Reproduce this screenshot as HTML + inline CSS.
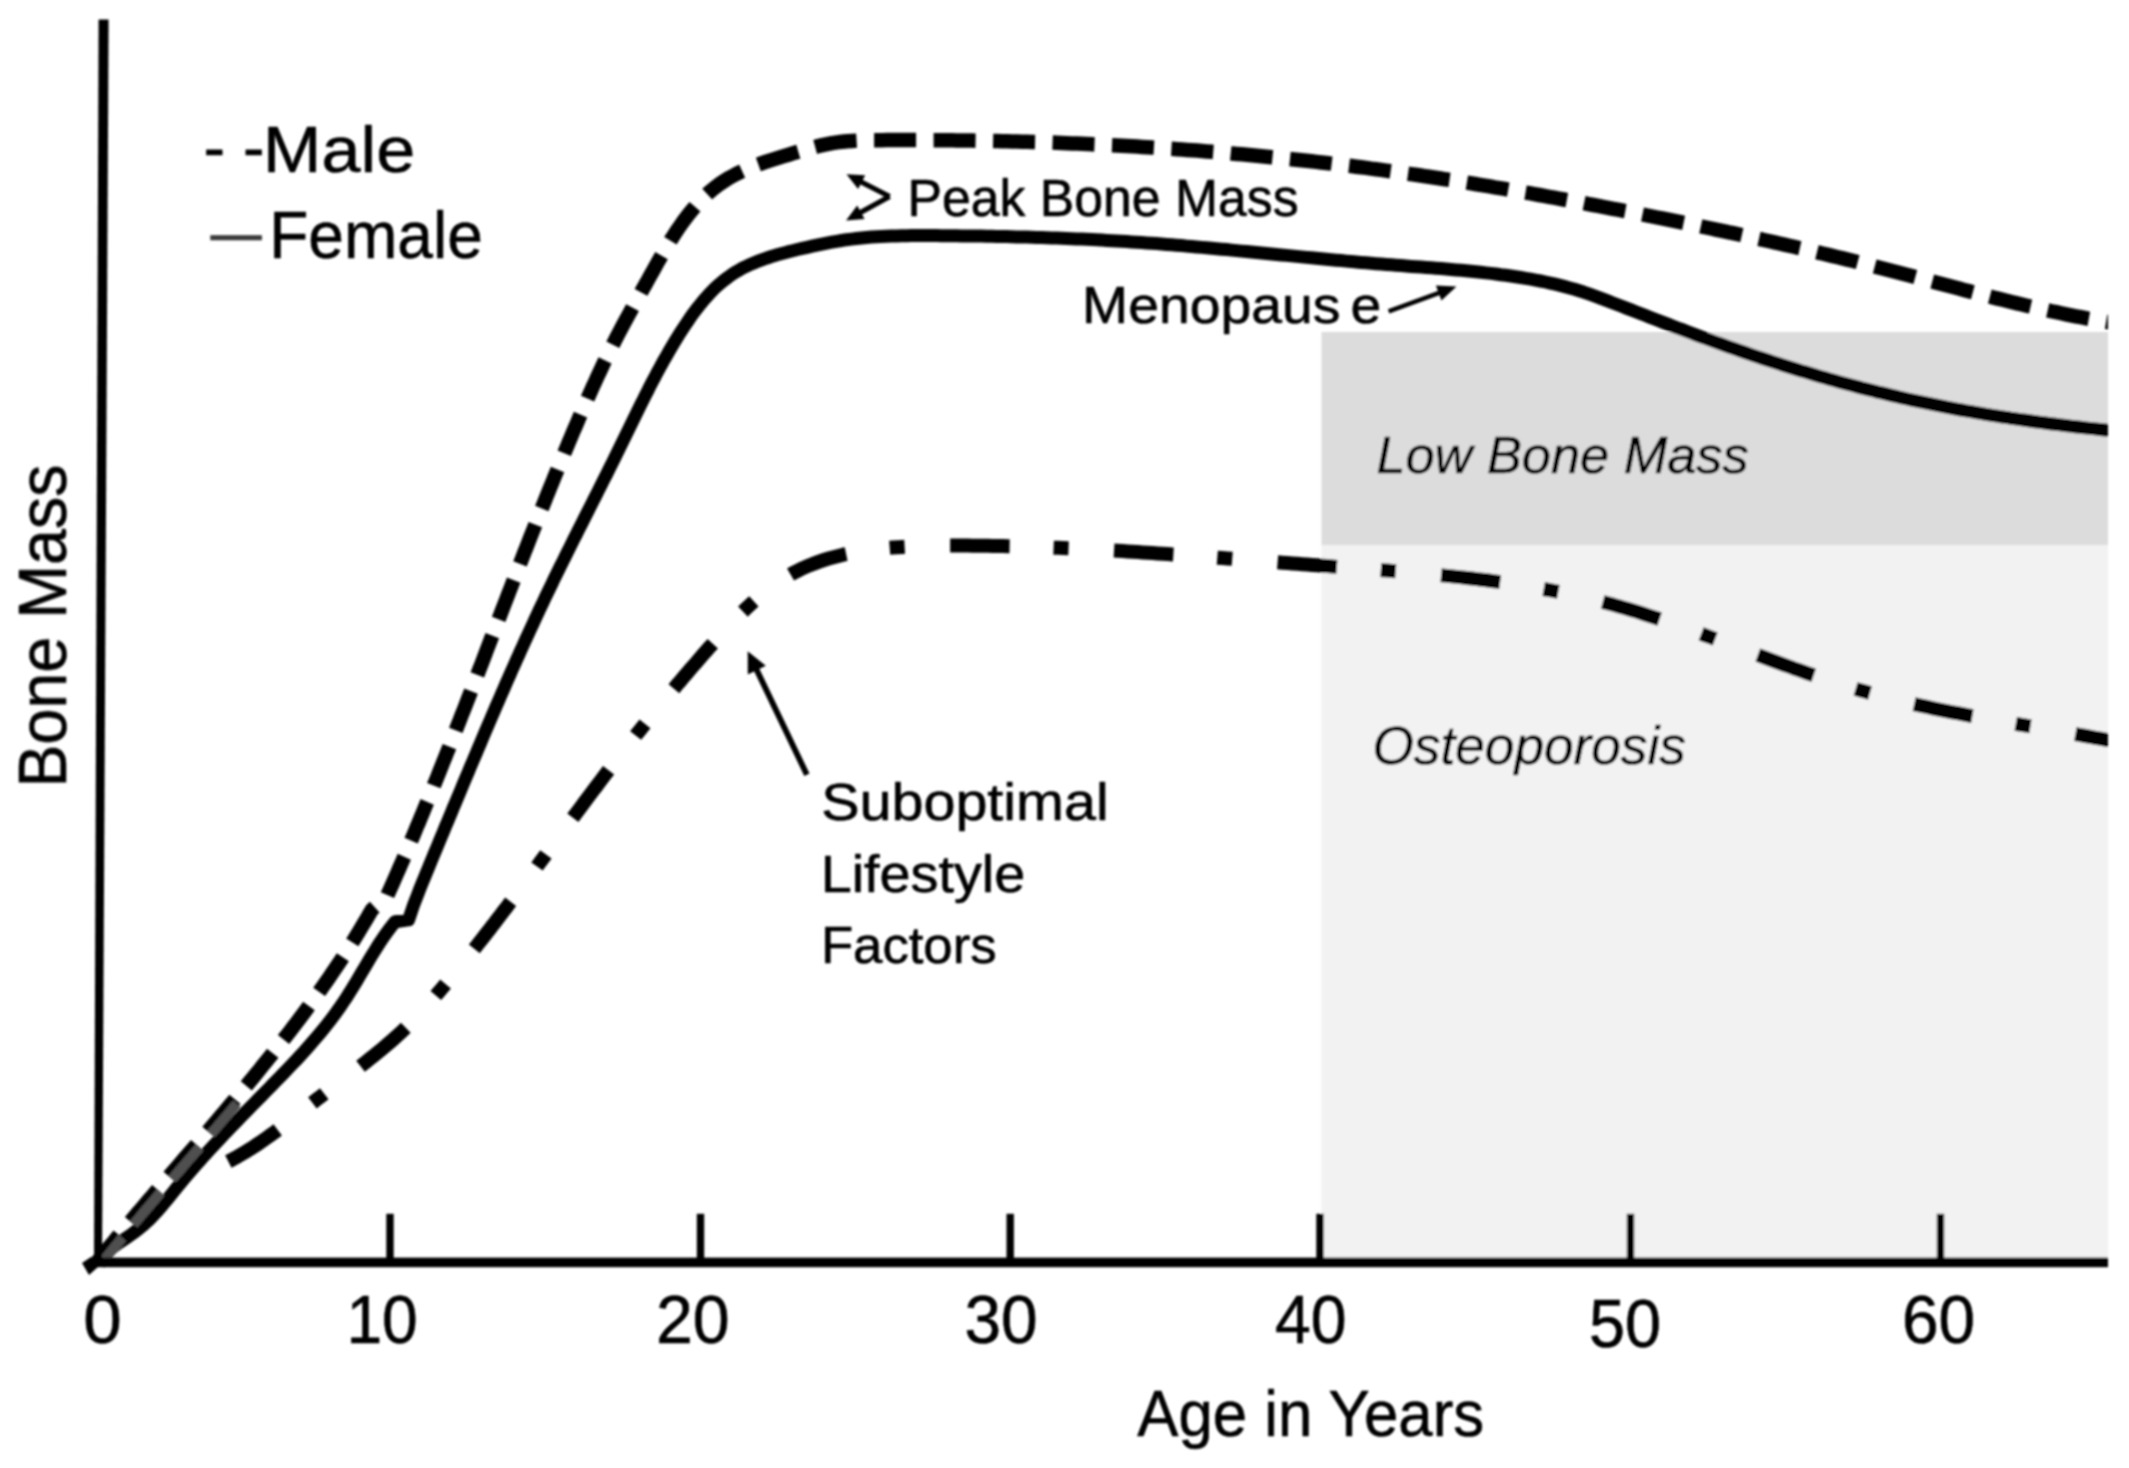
<!DOCTYPE html>
<html lang="en"><head><meta charset="utf-8"><title>Bone Mass by Age</title><style>html,body{margin:0;padding:0;background:#fff}svg{display:block}</style></head><body><svg width="2129" height="1468" viewBox="0 0 2129 1468"><defs><clipPath id="plot"><rect x="0" y="0" width="2108" height="1468"/></clipPath><filter id="soft" filterUnits="userSpaceOnUse" x="0" y="0" width="2129" height="1468"><feGaussianBlur stdDeviation="1"/></filter></defs><rect width="2129" height="1468" fill="#fff"/><g filter="url(#soft)"><rect x="1321.5" y="332" width="786.5" height="213" fill="#dcdcdc"/>
<rect x="1321.5" y="545" width="786.5" height="715" fill="#f2f2f2"/>
<g clip-path="url(#plot)" fill="none" stroke="#000" stroke-linejoin="round">
<path d="M228.3 1161.5 L232.8 1159.2 L237.2 1156.8 L241.5 1154.3 L245.8 1151.7 L250.1 1149.1 L254.3 1146.4 L258.4 1143.6 L262.6 1140.8 L266.7 1137.9 L270.7 1135.0 L274.8 1132.1 L278.8 1129.1 L282.8 1126.0 L286.7 1123.0 L290.7 1119.9 L294.6 1116.8 L298.6 1113.7 L302.5 1110.7 L306.4 1107.6 L310.3 1104.5 L314.3 1101.4 L318.2 1098.3 L322.2 1095.3 L326.2 1092.2 L330.2 1089.2 L334.2 1086.2 L338.2 1083.2 L342.2 1080.2 L346.2 1077.1 L350.1 1074.1 L354.1 1071.1 L358.1 1068.1 L362.1 1065.0 L366.0 1061.9 L369.9 1058.8 L373.8 1055.7 L377.7 1052.6 L381.6 1049.4 L385.4 1046.2 L389.2 1042.9 L393.0 1039.6 L396.7 1036.3 L400.4 1032.9 L404.0 1029.4 L407.6 1025.9 L411.2 1022.4 L414.6 1018.8 L418.1 1015.2 L421.5 1011.5 L424.9 1007.8 L428.2 1004.1 L431.5 1000.4 L434.8 996.6 L438.1 992.8 L441.4 989.0 L444.6 985.2 L447.8 981.4 L451.0 977.5 L454.2 973.7 L457.4 969.8 L460.6 966.0 L463.7 962.1 L466.9 958.2 L470.0 954.3 L473.1 950.4 L476.2 946.5 L479.3 942.5 L482.4 938.6 L485.5 934.6 L488.6 930.7 L491.6 926.7 L494.7 922.8 L497.7 918.8 L500.8 914.8 L503.8 910.8 L506.8 906.9 L509.8 902.9 L512.9 898.9 L515.9 894.9 L518.9 890.9 L521.9 886.9 L524.8 882.8 L527.8 878.8 L530.8 874.8 L533.8 870.8 L536.8 866.8 L539.7 862.7 L542.7 858.7 L545.7 854.7 L548.6 850.7 L551.6 846.6 L554.6 842.6 L557.6 838.6 L560.5 834.5 L563.5 830.5 L566.5 826.5 L569.4 822.5 L572.4 818.4 L575.4 814.4 L578.4 810.4 L581.4 806.4 L584.3 802.4 L587.3 798.4 L590.3 794.4 L593.3 790.4 L596.4 786.4 L599.4 782.4 L602.4 778.4 L605.4 774.4 L608.5 770.4 L611.5 766.5 L614.6 762.5 L617.6 758.5 L620.7 754.6 L623.8 750.6 L626.8 746.7 L629.9 742.8 L633.0 738.8 L636.1 734.9 L639.3 731.0 L642.4 727.1 L645.5 723.2 L648.7 719.3 L651.8 715.4 L655.0 711.5 L658.1 707.7 L661.3 703.8 L664.5 699.9 L667.7 696.1 L670.9 692.2 L674.1 688.4 L677.3 684.6 L680.6 680.8 L683.8 676.9 L687.1 673.1 L690.3 669.3 L693.6 665.5 L696.9 661.8 L700.1 658.0 L703.4 654.2 L706.7 650.5 L710.0 646.7 L713.4 643.0 L716.7 639.2 L720.0 635.5 L723.4 631.8 L726.8 628.1 L730.2 624.5 L733.7 620.9 L737.2 617.3 L740.7 613.8 L744.3 610.3 L747.9 606.8 L751.6 603.4 L755.3 600.1 L759.1 596.8 L763.0 593.6 L766.9 590.5 L770.8 587.4 L774.9 584.5 L779.0 581.7 L783.2 578.9 L787.5 576.3 L791.8 573.8 L796.2 571.5 L800.7 569.2 L805.2 567.2 L809.8 565.2 L814.5 563.4 L819.2 561.6 L823.9 560.0 L828.7 558.5 L833.5 557.2 L838.4 555.9 L843.2 554.7 L848.1 553.7 L853.0 552.7 L857.9 551.8 L862.9 551.0 L867.8 550.2 L872.8 549.5 L877.8 549.0 L882.7 548.4 L887.7 547.9 L892.7 547.5 L897.7 547.2 L902.7 546.9 L907.7 546.6 L912.7 546.4 L917.7 546.2 L922.7 546.0 L927.7 545.9 L932.7 545.8 L937.7 545.7 L942.7 545.7 L947.7 545.6 L952.7 545.6 L957.7 545.6 L962.7 545.6 L967.7 545.6 L972.7 545.7 L977.7 545.7 L982.7 545.7 L987.7 545.8 L992.7 545.9 L997.7 546.0 L1002.7 546.1 L1007.7 546.2 L1012.7 546.3 L1017.7 546.4 L1022.7 546.6 L1027.7 546.7 L1032.7 546.9 L1037.7 547.0 L1042.7 547.2 L1047.7 547.4 L1052.7 547.6 L1057.7 547.8 L1062.7 548.0 L1067.7 548.2 L1072.7 548.4 L1077.7 548.7 L1082.7 548.9 L1087.7 549.2 L1092.7 549.4 L1097.7 549.7 L1102.7 550.0 L1107.7 550.2 L1112.7 550.5 L1117.7 550.8 L1122.7 551.1 L1127.7 551.4 L1132.7 551.7 L1137.7 552.0 L1142.7 552.4 L1147.7 552.7 L1152.7 553.0 L1157.7 553.4 L1162.7 553.7 L1167.6 554.0 L1172.6 554.4 L1177.6 554.7 L1182.6 555.1 L1187.6 555.4 L1192.6 555.8 L1197.6 556.2 L1202.6 556.5 L1207.6 556.9 L1212.6 557.3 L1217.5 557.7 L1222.5 558.0 L1227.5 558.4 L1232.5 558.8 L1237.5 559.2 L1242.5 559.6 L1247.5 559.9 L1252.5 560.3 L1257.5 560.7 L1262.4 561.1 L1267.4 561.5 L1272.4 561.9 L1277.4 562.3 L1282.4 562.7 L1287.4 563.0 L1292.4 563.4 L1297.4 563.8 L1302.4 564.2 L1307.3 564.6 L1312.3 565.0 L1317.3 565.3 L1322.3 565.7 L1327.3 566.1 L1332.3 566.5 L1337.3 566.9 L1342.3 567.2 L1347.3 567.6 L1352.2 568.0 L1357.2 568.3 L1362.2 568.7 L1367.2 569.1 L1372.2 569.5 L1377.2 569.8 L1382.2 570.2 L1387.2 570.6 L1392.2 571.0 L1397.2 571.4 L1402.1 571.8 L1407.1 572.2 L1412.1 572.6 L1417.1 573.1 L1422.1 573.5 L1427.1 573.9 L1432.0 574.4 L1437.0 574.9 L1442.0 575.4 L1447.0 575.9 L1452.0 576.4 L1456.9 576.9 L1461.9 577.4 L1466.9 578.0 L1471.9 578.5 L1476.8 579.1 L1481.8 579.7 L1486.8 580.3 L1491.7 581.0 L1496.7 581.6 L1501.6 582.3 L1506.6 583.0 L1511.5 583.7 L1516.5 584.5 L1521.4 585.2 L1526.4 586.0 L1531.3 586.9 L1536.3 587.7 L1541.2 588.6 L1546.1 589.5 L1551.0 590.4 L1555.9 591.3 L1560.8 592.3 L1565.7 593.3 L1570.6 594.3 L1575.5 595.4 L1580.4 596.5 L1585.3 597.6 L1590.1 598.8 L1595.0 600.0 L1599.9 601.2 L1604.7 602.5 L1609.5 603.8 L1614.4 605.1 L1619.2 606.5 L1624.0 607.9 L1628.8 609.3 L1633.6 610.7 L1638.3 612.2 L1643.1 613.7 L1647.9 615.3 L1652.6 616.8 L1657.4 618.4 L1662.1 620.0 L1666.9 621.6 L1671.6 623.2 L1676.3 624.9 L1681.0 626.5 L1685.7 628.2 L1690.5 629.9 L1695.2 631.6 L1699.9 633.3 L1704.6 635.1 L1709.2 636.8 L1713.9 638.5 L1718.6 640.3 L1723.3 642.0 L1728.0 643.8 L1732.7 645.6 L1737.4 647.3 L1742.0 649.1 L1746.7 650.9 L1751.4 652.6 L1756.1 654.4 L1760.8 656.1 L1765.5 657.9 L1770.1 659.6 L1774.8 661.4 L1779.5 663.1 L1784.2 664.8 L1788.9 666.5 L1793.6 668.3 L1798.3 669.9 L1803.1 671.6 L1807.8 673.3 L1812.5 674.9 L1817.2 676.5 L1822.0 678.2 L1826.7 679.7 L1831.5 681.3 L1836.2 682.9 L1841.0 684.4 L1845.8 685.9 L1850.6 687.3 L1855.4 688.8 L1860.1 690.2 L1865.0 691.6 L1869.8 692.9 L1874.6 694.3 L1879.4 695.6 L1884.3 696.8 L1889.1 698.1 L1894.0 699.3 L1898.8 700.5 L1903.7 701.7 L1908.6 702.8 L1913.4 704.0 L1918.3 705.1 L1923.2 706.2 L1928.1 707.2 L1933.0 708.3 L1937.9 709.3 L1942.8 710.3 L1947.7 711.3 L1952.6 712.3 L1957.5 713.2 L1962.4 714.2 L1967.3 715.1 L1972.2 716.1 L1977.2 717.0 L1982.1 717.9 L1987.0 718.8 L1991.9 719.7 L1996.9 720.5 L2001.8 721.4 L2006.7 722.3 L2011.6 723.1 L2016.6 724.0 L2021.5 724.8 L2026.4 725.7 L2031.4 726.5 L2036.3 727.4 L2041.2 728.2 L2046.2 729.1 L2051.1 729.9 L2056.0 730.8 L2060.9 731.6 L2065.9 732.5 L2070.8 733.3 L2075.7 734.2 L2080.7 735.1 L2085.6 736.0 L2090.5 736.9 L2095.4 737.8 L2100.4 738.7 L2105.3 739.6 L2110.2 740.5 L2115.1 741.5 L2120.0 742.4 L2124.9 743.4" stroke-width="14" stroke-dasharray="59.5 44 15 45.5" stroke-dashoffset="0.8"/>
<path d="M97.1 1262.0 L100.3 1258.1 L103.5 1254.2 L106.6 1250.3 L109.8 1246.4 L113.0 1242.6 L116.2 1238.7 L119.4 1234.8 L122.6 1231.0 L125.9 1227.1 L129.1 1223.2 L132.3 1219.4 L135.6 1215.6 L138.8 1211.7 L142.1 1207.9 L145.3 1204.1 L148.6 1200.2 L151.9 1196.4 L155.1 1192.6 L158.4 1188.8 L161.7 1185.0 L164.9 1181.2 L168.2 1177.3 L171.5 1173.5 L174.8 1169.7 L178.1 1165.9 L181.3 1162.1 L184.6 1158.3 L187.9 1154.5 L191.2 1150.7 L194.5 1146.9 L197.8 1143.1 L201.0 1139.3 L204.3 1135.4 L207.6 1131.6 L210.8 1127.8 L214.1 1124.0 L217.4 1120.2 L220.6 1116.3 L223.9 1112.5 L227.1 1108.7 L230.4 1104.8 L233.6 1101.0 L236.8 1097.1 L240.1 1093.3 L243.3 1089.4 L246.5 1085.6 L249.7 1081.7 L252.9 1077.8 L256.1 1073.9 L259.3 1070.0 L262.4 1066.1 L265.6 1062.2 L268.7 1058.3 L271.9 1054.4 L275.0 1050.4 L278.1 1046.5 L281.2 1042.5 L284.3 1038.6 L287.4 1034.6 L290.5 1030.6 L293.5 1026.6 L296.6 1022.6 L299.6 1018.6 L302.6 1014.6 L305.6 1010.6 L308.6 1006.5 L311.5 1002.5 L314.5 998.4 L317.4 994.3 L320.3 990.2 L323.2 986.1 L326.1 982.0 L329.0 977.8 L331.8 973.7 L334.6 969.5 L337.4 965.4 L340.2 961.2 L343.0 957.0 L345.7 952.7 L348.4 948.5 L351.1 944.3 L353.8 940.0 L356.4 935.7 L359.0 931.5 L361.6 927.1 L364.2 922.8 L366.8 918.5 L369.3 914.1 L371.8 909.8 L387.1 896.0 L389.1 891.4 L391.2 886.8 L393.2 882.3 L395.2 877.7 L397.2 873.1 L399.2 868.5 L401.2 863.9 L403.2 859.3 L405.2 854.7 L407.1 850.1 L409.1 845.5 L411.0 840.9 L413.0 836.3 L414.9 831.7 L416.8 827.1 L418.8 822.5 L420.7 817.8 L422.6 813.2 L424.5 808.6 L426.4 803.9 L428.3 799.3 L430.2 794.7 L432.1 790.0 L433.9 785.4 L435.8 780.8 L437.7 776.1 L439.5 771.5 L441.4 766.8 L443.2 762.2 L445.1 757.5 L446.9 752.9 L448.8 748.2 L450.6 743.6 L452.4 738.9 L454.3 734.3 L456.1 729.6 L457.9 724.9 L459.7 720.3 L461.5 715.6 L463.4 711.0 L465.2 706.3 L467.0 701.6 L468.8 697.0 L470.6 692.3 L472.4 687.6 L474.2 683.0 L476.0 678.3 L477.8 673.6 L479.6 668.9 L481.4 664.3 L483.2 659.6 L485.0 654.9 L486.7 650.3 L488.5 645.6 L490.3 640.9 L492.1 636.2 L493.9 631.6 L495.7 626.9 L497.5 622.2 L499.3 617.6 L501.1 612.9 L502.9 608.2 L504.7 603.5 L506.5 598.9 L508.3 594.2 L510.1 589.5 L511.9 584.9 L513.7 580.2 L515.5 575.5 L517.3 570.9 L519.1 566.2 L520.9 561.5 L522.7 556.9 L524.5 552.2 L526.4 547.5 L528.2 542.9 L530.0 538.2 L531.8 533.6 L533.7 528.9 L535.5 524.3 L537.4 519.6 L539.2 515.0 L541.0 510.3 L542.9 505.7 L544.8 501.0 L546.6 496.4 L548.5 491.7 L550.4 487.1 L552.3 482.5 L554.1 477.8 L556.0 473.2 L557.9 468.6 L559.8 463.9 L561.7 459.3 L563.7 454.7 L565.6 450.1 L567.5 445.5 L569.4 440.8 L571.4 436.2 L573.3 431.6 L575.3 427.0 L577.3 422.4 L579.2 417.8 L581.2 413.2 L583.2 408.6 L585.2 404.0 L587.2 399.5 L589.2 394.9 L591.3 390.3 L593.3 385.7 L595.4 381.2 L597.5 376.6 L599.6 372.1 L601.7 367.6 L603.8 363.0 L606.0 358.5 L608.2 354.0 L610.4 349.6 L612.7 345.1 L614.9 340.6 L617.2 336.2 L619.5 331.7 L621.9 327.3 L624.2 322.9 L626.6 318.5 L629.0 314.1 L631.4 309.7 L633.8 305.3 L636.2 300.9 L638.7 296.6 L641.1 292.2 L643.5 287.8 L646.0 283.5 L648.4 279.1 L650.8 274.7 L653.3 270.3 L655.7 266.0 L658.1 261.6 L660.6 257.3 L663.1 252.9 L665.6 248.6 L668.2 244.3 L670.8 240.0 L673.5 235.8 L676.2 231.6 L679.0 227.5 L681.9 223.4 L684.8 219.3 L687.8 215.3 L691.0 211.4 L694.2 207.6 L697.5 203.8 L700.9 200.2 L704.5 196.7 L708.1 193.3 L711.9 190.0 L715.8 186.8 L719.8 183.9 L724.0 181.1 L728.2 178.4 L732.6 176.0 L737.0 173.6 L741.5 171.5 L746.1 169.4 L750.7 167.5 L755.3 165.6 L760.0 163.9 L764.8 162.2 L769.5 160.6 L774.3 159.1 L779.0 157.6 L783.8 156.1 L788.6 154.7 L793.4 153.2 L798.2 151.8 L803.0 150.4 L807.8 149.0 L812.6 147.6 L817.4 146.3 L822.3 145.1 L827.2 144.1 L832.1 143.1 L837.0 142.4 L842.0 141.8 L847.0 141.3 L852.0 140.9 L857.0 140.6 L862.0 140.4 L867.0 140.3 L872.0 140.2 L877.0 140.2 L882.0 140.2 L887.0 140.1 L892.0 140.1 L897.0 140.1 L902.0 140.1 L907.0 140.1 L912.0 140.1 L917.0 140.1 L922.0 140.1 L927.0 140.1 L932.0 140.2 L937.0 140.2 L942.0 140.2 L947.0 140.3 L952.0 140.3 L957.0 140.4 L962.0 140.4 L967.1 140.5 L972.1 140.6 L977.1 140.7 L982.1 140.7 L987.1 140.8 L992.1 140.9 L997.1 141.0 L1002.1 141.2 L1007.1 141.3 L1012.1 141.4 L1017.1 141.5 L1022.1 141.7 L1027.1 141.8 L1032.1 142.0 L1037.1 142.1 L1042.1 142.3 L1047.1 142.4 L1052.1 142.6 L1057.1 142.8 L1062.1 143.0 L1067.1 143.2 L1072.1 143.4 L1077.1 143.6 L1082.1 143.8 L1087.1 144.0 L1092.1 144.3 L1097.1 144.5 L1102.1 144.7 L1107.1 145.0 L1112.1 145.2 L1117.1 145.5 L1122.1 145.8 L1127.1 146.0 L1132.1 146.3 L1137.1 146.6 L1142.0 146.9 L1147.0 147.2 L1152.0 147.5 L1157.0 147.8 L1162.0 148.2 L1167.0 148.5 L1172.0 148.8 L1177.0 149.2 L1182.0 149.5 L1187.0 149.9 L1192.0 150.3 L1197.0 150.6 L1201.9 151.0 L1206.9 151.4 L1211.9 151.8 L1216.9 152.2 L1221.9 152.6 L1226.9 153.0 L1231.9 153.5 L1236.9 153.9 L1241.8 154.3 L1246.8 154.8 L1251.8 155.3 L1256.8 155.7 L1261.8 156.2 L1266.7 156.7 L1271.7 157.2 L1276.7 157.7 L1281.7 158.2 L1286.7 158.7 L1291.6 159.2 L1296.6 159.7 L1301.6 160.3 L1306.6 160.8 L1311.5 161.3 L1316.5 161.9 L1321.5 162.5 L1326.5 163.0 L1331.4 163.6 L1336.4 164.2 L1341.4 164.8 L1346.3 165.4 L1351.3 166.0 L1356.3 166.7 L1361.2 167.3 L1366.2 167.9 L1371.1 168.6 L1376.1 169.2 L1381.1 169.9 L1386.0 170.6 L1391.0 171.3 L1395.9 172.0 L1400.9 172.7 L1405.8 173.4 L1410.8 174.1 L1415.7 174.8 L1420.7 175.5 L1425.6 176.3 L1430.6 177.0 L1435.5 177.7 L1440.5 178.5 L1445.4 179.3 L1450.4 180.0 L1455.3 180.8 L1460.3 181.6 L1465.2 182.4 L1470.1 183.2 L1475.1 184.0 L1480.0 184.8 L1485.0 185.6 L1489.9 186.4 L1494.8 187.3 L1499.8 188.1 L1504.7 188.9 L1509.6 189.8 L1514.6 190.6 L1519.5 191.5 L1524.4 192.4 L1529.3 193.2 L1534.3 194.1 L1539.2 195.0 L1544.1 195.9 L1549.0 196.8 L1554.0 197.7 L1558.9 198.6 L1563.8 199.5 L1568.7 200.4 L1573.6 201.3 L1578.6 202.2 L1583.5 203.1 L1588.4 204.1 L1593.3 205.0 L1598.2 205.9 L1603.1 206.9 L1608.1 207.8 L1613.0 208.8 L1617.9 209.7 L1622.8 210.7 L1627.7 211.6 L1632.6 212.6 L1637.5 213.5 L1642.4 214.5 L1647.3 215.5 L1652.3 216.5 L1657.2 217.5 L1662.1 218.4 L1667.0 219.4 L1671.9 220.4 L1676.8 221.4 L1681.7 222.4 L1686.6 223.4 L1691.5 224.4 L1696.4 225.4 L1701.3 226.5 L1706.2 227.5 L1711.1 228.5 L1716.0 229.6 L1720.9 230.6 L1725.8 231.6 L1730.6 232.7 L1735.5 233.7 L1740.4 234.8 L1745.3 235.9 L1750.2 236.9 L1755.1 238.0 L1760.0 239.1 L1764.9 240.2 L1769.7 241.3 L1774.6 242.4 L1779.5 243.5 L1784.4 244.6 L1789.3 245.7 L1794.1 246.8 L1799.0 248.0 L1803.9 249.1 L1808.8 250.2 L1813.6 251.4 L1818.5 252.6 L1823.4 253.7 L1828.2 254.9 L1833.1 256.1 L1838.0 257.2 L1842.8 258.4 L1847.7 259.6 L1852.5 260.8 L1857.4 262.0 L1862.2 263.3 L1867.1 264.5 L1871.9 265.7 L1876.8 267.0 L1881.6 268.2 L1886.5 269.5 L1891.3 270.7 L1896.2 272.0 L1901.0 273.3 L1905.8 274.5 L1910.7 275.8 L1915.5 277.1 L1920.3 278.4 L1925.2 279.7 L1930.0 280.9 L1934.9 282.2 L1939.7 283.5 L1944.5 284.8 L1949.4 286.1 L1954.2 287.3 L1959.0 288.6 L1963.9 289.9 L1968.7 291.1 L1973.6 292.4 L1978.4 293.7 L1983.3 294.9 L1988.1 296.1 L1993.0 297.4 L1997.8 298.6 L2002.7 299.8 L2007.5 301.0 L2012.4 302.2 L2017.2 303.4 L2022.1 304.5 L2027.0 305.7 L2031.9 306.8 L2036.7 307.9 L2041.6 309.0 L2046.5 310.1 L2051.4 311.2 L2056.3 312.2 L2061.2 313.3 L2066.1 314.3 L2071.0 315.3 L2075.9 316.3 L2080.8 317.2 L2085.7 318.2 L2090.6 319.1 L2095.5 320.0 L2100.5 320.8 L2105.4 321.7 L2110.3 322.5 L2115.3 323.3 L2120.2 324.1 L2125.2 324.8" stroke-width="14.5" stroke-dasharray="42 17.5" stroke-dashoffset="7.2"/>
<path d="M96.9 1261.9 L100.3 1258.2 L103.8 1254.7 L107.6 1251.4 L111.5 1248.3 L115.5 1245.3 L119.6 1242.5 L123.8 1239.6 L127.9 1236.8 L132.0 1234.0 L136.0 1231.0 L140.0 1227.9 L143.8 1224.7 L147.5 1221.3 L151.0 1217.8 L154.5 1214.2 L157.9 1210.5 L161.2 1206.7 L164.4 1202.9 L167.6 1199.1 L170.8 1195.2 L173.9 1191.3 L177.0 1187.4 L180.2 1183.6 L183.4 1179.7 L186.6 1175.9 L189.9 1172.1 L193.1 1168.3 L196.4 1164.5 L199.7 1160.8 L203.1 1157.0 L206.4 1153.3 L209.8 1149.6 L213.2 1146.0 L216.6 1142.3 L220.0 1138.7 L223.4 1135.0 L226.9 1131.4 L230.4 1127.8 L233.8 1124.2 L237.3 1120.6 L240.8 1117.0 L244.3 1113.4 L247.8 1109.9 L251.3 1106.3 L254.8 1102.7 L258.3 1099.2 L261.8 1095.6 L265.3 1092.0 L268.8 1088.5 L272.3 1084.9 L275.8 1081.3 L279.3 1077.7 L282.8 1074.1 L286.3 1070.5 L289.7 1066.9 L293.2 1063.3 L296.6 1059.7 L300.0 1056.0 L303.4 1052.3 L306.7 1048.6 L310.0 1044.9 L313.3 1041.1 L316.6 1037.3 L319.8 1033.5 L323.0 1029.6 L326.1 1025.7 L329.2 1021.8 L332.2 1017.8 L335.2 1013.8 L338.2 1009.7 L341.0 1005.7 L343.8 1001.5 L346.6 997.3 L349.3 993.1 L351.9 988.9 L354.5 984.6 L357.1 980.3 L359.6 976.0 L362.2 971.7 L364.7 967.4 L367.3 963.1 L369.8 958.8 L372.4 954.5 L375.0 950.3 L377.7 946.0 L380.4 941.8 L383.2 937.7 L386.1 933.6 L389.0 929.5 L392.0 925.6 L395.2 921.7 L408.6 919.9 L410.2 915.1 L411.8 910.4 L413.4 905.6 L415.2 900.9 L417.0 896.3 L418.8 891.6 L420.6 886.9 L422.5 882.3 L424.4 877.7 L426.3 873.0 L428.2 868.4 L430.1 863.8 L432.0 859.1 L433.9 854.5 L435.8 849.9 L437.8 845.2 L439.7 840.6 L441.6 836.0 L443.5 831.4 L445.4 826.7 L447.4 822.1 L449.3 817.5 L451.2 812.9 L453.1 808.2 L455.1 803.6 L457.0 799.0 L458.9 794.4 L460.9 789.7 L462.8 785.1 L464.7 780.5 L466.6 775.9 L468.6 771.3 L470.5 766.6 L472.5 762.0 L474.4 757.4 L476.4 752.8 L478.3 748.2 L480.3 743.6 L482.2 739.0 L484.2 734.3 L486.1 729.7 L488.1 725.1 L490.1 720.5 L492.0 715.9 L494.0 711.3 L496.0 706.7 L498.0 702.1 L500.0 697.5 L502.0 692.9 L504.0 688.3 L506.0 683.7 L508.0 679.2 L510.0 674.6 L512.0 670.0 L514.1 665.4 L516.1 660.8 L518.2 656.3 L520.2 651.7 L522.3 647.1 L524.3 642.6 L526.4 638.0 L528.5 633.5 L530.6 628.9 L532.7 624.4 L534.8 619.8 L536.9 615.3 L539.0 610.7 L541.2 606.2 L543.3 601.7 L545.4 597.1 L547.6 592.6 L549.8 588.1 L552.0 583.6 L554.1 579.1 L556.3 574.6 L558.5 570.1 L560.7 565.6 L563.0 561.1 L565.2 556.6 L567.4 552.1 L569.7 547.6 L571.9 543.2 L574.1 538.7 L576.4 534.2 L578.6 529.7 L580.9 525.3 L583.1 520.8 L585.4 516.3 L587.7 511.8 L589.9 507.4 L592.2 502.9 L594.4 498.4 L596.7 494.0 L598.9 489.5 L601.2 485.0 L603.4 480.5 L605.7 476.1 L607.9 471.6 L610.1 467.1 L612.4 462.6 L614.6 458.1 L616.8 453.6 L619.0 449.1 L621.2 444.6 L623.4 440.1 L625.6 435.6 L627.8 431.1 L630.0 426.6 L632.2 422.1 L634.4 417.6 L636.6 413.1 L638.8 408.6 L641.0 404.1 L643.3 399.6 L645.5 395.2 L647.8 390.7 L650.0 386.2 L652.3 381.8 L654.7 377.4 L657.0 372.9 L659.4 368.5 L661.8 364.1 L664.2 359.7 L666.7 355.4 L669.2 351.0 L671.7 346.7 L674.3 342.4 L676.9 338.1 L679.5 333.9 L682.2 329.7 L685.0 325.5 L687.8 321.3 L690.6 317.2 L693.5 313.1 L696.5 309.1 L699.6 305.2 L702.8 301.3 L706.1 297.5 L709.4 293.8 L712.9 290.2 L716.5 286.7 L720.3 283.4 L724.1 280.2 L728.1 277.2 L732.2 274.3 L736.5 271.6 L740.8 269.1 L745.2 266.8 L749.8 264.7 L754.4 262.7 L759.0 260.8 L763.7 259.1 L768.5 257.5 L773.2 255.9 L778.0 254.5 L782.9 253.2 L787.7 251.9 L792.6 250.7 L797.4 249.5 L802.3 248.4 L807.2 247.3 L812.1 246.2 L817.0 245.1 L821.9 244.1 L826.8 243.1 L831.7 242.2 L836.6 241.3 L841.6 240.5 L846.5 239.7 L851.5 239.1 L856.5 238.5 L861.5 238.0 L866.4 237.5 L871.4 237.1 L876.4 236.8 L881.4 236.5 L886.4 236.2 L891.4 236.0 L896.5 235.9 L901.5 235.8 L906.5 235.7 L911.5 235.6 L916.5 235.6 L921.5 235.6 L926.5 235.6 L931.5 235.6 L936.5 235.6 L941.5 235.7 L946.5 235.7 L951.6 235.7 L956.6 235.8 L961.6 235.9 L966.6 235.9 L971.6 236.0 L976.6 236.1 L981.6 236.1 L986.6 236.2 L991.6 236.3 L996.6 236.4 L1001.6 236.5 L1006.6 236.6 L1011.7 236.7 L1016.7 236.9 L1021.7 237.0 L1026.7 237.1 L1031.7 237.3 L1036.7 237.4 L1041.7 237.6 L1046.7 237.7 L1051.7 237.9 L1056.7 238.1 L1061.7 238.3 L1066.7 238.5 L1071.7 238.7 L1076.7 238.9 L1081.7 239.1 L1086.7 239.3 L1091.7 239.6 L1096.7 239.8 L1101.7 240.1 L1106.7 240.4 L1111.8 240.7 L1116.8 240.9 L1121.8 241.2 L1126.8 241.6 L1131.7 241.9 L1136.7 242.2 L1141.7 242.6 L1146.7 242.9 L1151.7 243.3 L1156.7 243.6 L1161.7 244.0 L1166.7 244.4 L1171.7 244.8 L1176.7 245.2 L1181.7 245.6 L1186.7 246.1 L1191.7 246.5 L1196.7 246.9 L1201.7 247.4 L1206.6 247.8 L1211.6 248.3 L1216.6 248.7 L1221.6 249.2 L1226.6 249.6 L1231.6 250.1 L1236.6 250.6 L1241.6 251.1 L1246.5 251.5 L1251.5 252.0 L1256.5 252.5 L1261.5 253.0 L1266.5 253.5 L1271.5 254.0 L1276.5 254.5 L1281.4 254.9 L1286.4 255.4 L1291.4 255.9 L1296.4 256.4 L1301.4 256.9 L1306.4 257.4 L1311.4 257.8 L1316.3 258.3 L1321.3 258.8 L1326.3 259.3 L1331.3 259.7 L1336.3 260.2 L1341.3 260.6 L1346.3 261.1 L1351.3 261.5 L1356.3 262.0 L1361.2 262.4 L1366.2 262.8 L1371.2 263.2 L1376.2 263.7 L1381.2 264.1 L1386.2 264.5 L1391.2 264.8 L1396.2 265.2 L1401.2 265.6 L1406.2 266.0 L1411.2 266.4 L1416.2 266.7 L1421.2 267.1 L1426.2 267.5 L1431.2 267.8 L1436.2 268.2 L1441.1 268.6 L1446.1 269.0 L1451.1 269.5 L1456.1 269.9 L1461.1 270.3 L1466.1 270.8 L1471.1 271.3 L1476.1 271.8 L1481.0 272.3 L1486.0 272.9 L1491.0 273.4 L1496.0 274.0 L1500.9 274.7 L1505.9 275.3 L1510.9 276.0 L1515.8 276.7 L1520.8 277.5 L1525.7 278.3 L1530.7 279.2 L1535.6 280.1 L1540.5 281.0 L1545.4 282.0 L1550.3 283.1 L1555.2 284.2 L1560.1 285.4 L1564.9 286.6 L1569.7 287.9 L1574.6 289.3 L1579.3 290.8 L1584.1 292.3 L1588.8 293.9 L1593.6 295.6 L1598.3 297.3 L1603.0 299.1 L1607.7 300.9 L1612.3 302.7 L1617.0 304.5 L1621.7 306.3 L1626.3 308.1 L1631.0 309.9 L1635.7 311.7 L1640.3 313.5 L1645.0 315.3 L1649.7 317.2 L1654.4 319.0 L1659.0 320.8 L1663.7 322.6 L1668.4 324.4 L1673.1 326.2 L1677.7 328.0 L1682.4 329.7 L1687.1 331.5 L1691.8 333.3 L1696.5 335.1 L1701.2 336.8 L1705.9 338.5 L1710.6 340.3 L1715.3 342.0 L1720.0 343.7 L1724.7 345.4 L1729.4 347.1 L1734.1 348.7 L1738.9 350.4 L1743.6 352.0 L1748.3 353.7 L1753.1 355.3 L1757.8 356.9 L1762.6 358.5 L1767.3 360.0 L1772.1 361.6 L1776.9 363.1 L1781.6 364.7 L1786.4 366.2 L1791.2 367.7 L1796.0 369.2 L1800.7 370.7 L1805.5 372.1 L1810.3 373.5 L1815.1 375.0 L1819.9 376.4 L1824.8 377.8 L1829.6 379.2 L1834.4 380.5 L1839.2 381.9 L1844.0 383.2 L1848.9 384.5 L1853.7 385.8 L1858.6 387.1 L1863.4 388.4 L1868.3 389.6 L1873.1 390.8 L1878.0 392.1 L1882.8 393.2 L1887.7 394.4 L1892.6 395.6 L1897.5 396.7 L1902.3 397.9 L1907.2 399.0 L1912.1 400.1 L1917.0 401.1 L1921.9 402.2 L1926.8 403.2 L1931.7 404.2 L1936.6 405.2 L1941.5 406.2 L1946.4 407.2 L1951.4 408.1 L1956.3 409.1 L1961.2 410.0 L1966.1 410.9 L1971.1 411.7 L1976.0 412.6 L1980.9 413.4 L1985.9 414.3 L1990.8 415.1 L1995.8 415.9 L2000.7 416.7 L2005.7 417.4 L2010.6 418.2 L2015.6 418.9 L2020.5 419.6 L2025.5 420.3 L2030.4 421.0 L2035.4 421.7 L2040.4 422.4 L2045.3 423.0 L2050.3 423.7 L2055.3 424.3 L2060.2 424.9 L2065.2 425.5 L2070.2 426.1 L2075.2 426.7 L2080.1 427.3 L2085.1 427.9 L2090.1 428.4 L2095.1 428.9 L2100.1 429.5 L2105.0 430.0 L2110.0 430.5 L2115.0 431.0 L2120.0 431.5 L2125.0 432.0" stroke-width="13"/>
<path d="M97.1 1262.0 L100.3 1258.1 L103.5 1254.2 L106.6 1250.3 L109.8 1246.4 L113.0 1242.6 L116.2 1238.7 L119.4 1234.8 L122.6 1231.0 L125.9 1227.1 L129.1 1223.2 L132.3 1219.4 L135.6 1215.6 L138.8 1211.7 L142.1 1207.9 L145.3 1204.1 L148.6 1200.2 L151.9 1196.4 L155.1 1192.6 L158.4 1188.8 L161.7 1185.0 L164.9 1181.2 L168.2 1177.3 L171.5 1173.5 L174.8 1169.7 L178.1 1165.9 L181.3 1162.1 L184.6 1158.3 L187.9 1154.5 L191.2 1150.7 L194.5 1146.9 L197.8 1143.1 L201.0 1139.3 L204.3 1135.4 L207.6 1131.6 L210.8 1127.8 L214.1 1124.0 L217.4 1120.2 L220.6 1116.3 L223.9 1112.5 L227.1 1108.7 L230.4 1104.8 L233.6 1101.0" transform="translate(3.2 2.7)" stroke="#505050" stroke-width="10" stroke-dasharray="42 17.5" stroke-dashoffset="7.2"/>
</g>
<polygon points="98.6,19.5 108.6,19.5 102,1266 94,1266" fill="#000"/>
<rect x="90" y="1257.6" width="2018" height="9.6" fill="#000"/>
<polygon points="82,1263 91,1257 98,1267 89,1275" fill="#000"/>
<rect x="386.3" y="1213.8" width="7.4" height="46" fill="#000"/>
<rect x="696.8" y="1213.8" width="7.4" height="46" fill="#000"/>
<rect x="1006.5" y="1213.8" width="7.4" height="46" fill="#000"/>
<rect x="1316.3" y="1213.8" width="7.4" height="46" fill="#000"/>
<rect x="1626.8" y="1213.8" width="7.4" height="46" fill="#000"/>
<rect x="1936.8" y="1213.8" width="7.4" height="46" fill="#000"/>
<line x1="806.9" y1="774.8" x2="755.9" y2="668.3" stroke="#000" stroke-width="5.8"/><polygon points="747.7,651.2 765.8,665.8 747.8,674.5" fill="#000"/>
<line x1="1388.6" y1="311.3" x2="1440.5" y2="292.3" stroke="#000" stroke-width="4.5"/><polygon points="1456.5,286.4 1441.4,300.5 1435.9,285.4" fill="#000"/>
<line x1="889.6" y1="196.5" x2="859.8" y2="181.2" stroke="#000" stroke-width="5.2"/><polygon points="846.5,174.3 865.2,175.2 858.1,189.0" fill="#000"/>
<line x1="889.6" y1="196.5" x2="859.1" y2="213.3" stroke="#000" stroke-width="5.2"/><polygon points="846.0,220.5 857.2,205.5 864.6,219.1" fill="#000"/>
<g font-family="'Liberation Sans', sans-serif" stroke="#000" stroke-width="0.6" stroke-linejoin="round">
<text transform="translate(203.58 170.20) scale(0.9846 1)" font-size="65.71" fill="#000">- -</text>
<text transform="translate(263.12 172.00) scale(1.0682 1)" font-size="65.71" fill="#000">Male</text>
<text transform="translate(210.40 254.00) scale(0.7928 1)" font-size="64.71" fill="#3a3a3a" stroke="#3a3a3a">—</text>
<text transform="translate(269.19 257.80) scale(0.9588 1)" font-size="66.84" fill="#000">Female</text>
<text transform="translate(907.46 215.80) scale(1.0106 1)" font-size="51.20" fill="#000">Peak Bone Mass</text>
<text transform="translate(1082.08 322.70) scale(1.0599 1)" font-size="52.20" fill="#000">Menopaus<tspan dx="9.57">e</tspan></text>
<text transform="translate(1376.38 473.00) scale(1.0084 1)" font-size="51.91" font-style="italic" fill="#000">Low Bone Mass</text>
<text transform="translate(1372.51 763.80) scale(1.0025 1)" font-size="53.05" font-style="italic" fill="#000">Osteoporosis</text>
<text transform="translate(821.20 820.00) scale(1.1073 1)" font-size="51.91" fill="#000">Suboptimal</text>
<text transform="translate(820.64 892.00) scale(1.0745 1)" font-size="51.91" fill="#000">Lifestyle</text>
<text transform="translate(820.88 963.00) scale(1.0156 1)" font-size="51.91" fill="#000">Factors</text>
<text transform="translate(1137.30 1435.80) scale(0.9544 1)" font-size="64.71" fill="#000">Age in Years</text>
<text transform="translate(83.24 1343.00) scale(1.0032 1)" font-size="68.98" fill="#000">0</text>
<text transform="translate(346.39 1343.00) scale(0.9308 1)" font-size="68.98" fill="#000">10</text>
<text transform="translate(655.89 1343.00) scale(0.9614 1)" font-size="68.98" fill="#000">20</text>
<text transform="translate(964.44 1343.00) scale(0.9540 1)" font-size="68.98" fill="#000">30</text>
<text transform="translate(1274.99 1343.00) scale(0.9333 1)" font-size="68.98" fill="#000">40</text>
<text transform="translate(1588.97 1346.80) scale(0.9403 1)" font-size="68.98" fill="#000">50</text>
<text transform="translate(1901.91 1342.80) scale(0.9544 1)" font-size="68.98" fill="#000">60</text>
<g transform="translate(66 782.6) rotate(-90)"><text transform="translate(-5.05 0.00) scale(0.9388 1)" font-size="68.84" fill="#000">Bone Mass</text></g>
</g></g></svg></body></html>
